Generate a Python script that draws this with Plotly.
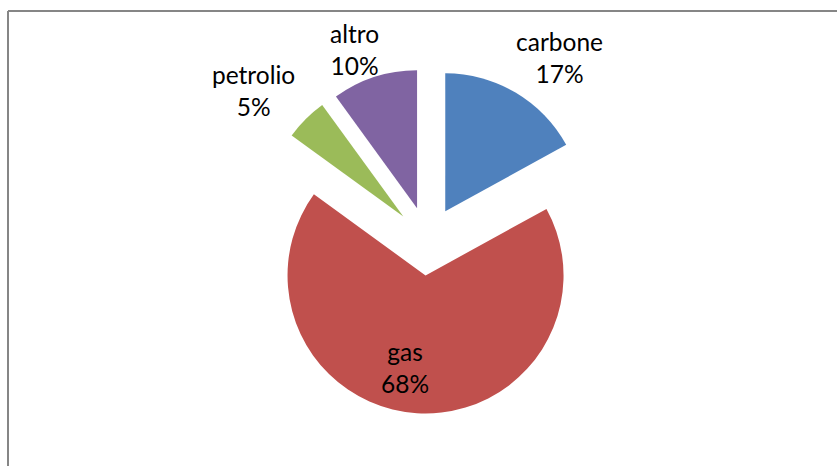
import plotly.graph_objects as go

labels = ["carbone", "gas", "petrolio", "altro"]
values = [17, 68, 5, 10]
colors = ["#4F81BD", "#C0504D", "#9BBB59", "#8064A2"]

# label block centres (pixels in the 837x466 canvas), Excel "best fit" style
label_px = [(559.5, 57), (405, 367), (253, 90), (354, 49)]

W, H = 837, 466
total = sum(values)

fig = go.Figure(go.Pie(
    labels=labels,
    values=values,
    sort=False,
    direction="clockwise",
    rotation=0,
    pull=[0.25] * len(values),
    marker=dict(colors=colors, line=dict(width=0)),
    textinfo="none",
    automargin=False,
    showlegend=False,
    hoverinfo="label+percent",
    domain=dict(x=[0.211, 0.811], y=[0.1126, 0.853]),
))

annotations = []
for lab, val, (px, py) in zip(labels, values, label_px):
    annotations.append(dict(
        xref="paper", yref="paper",
        x=px / W, y=1 - py / H,
        xanchor="center", yanchor="middle",
        text=f"{lab}<br>{round(100 * val / total)}%",
        showarrow=False,
        font=dict(family="Lato", size=24.5, color="#000000"),
        align="center",
    ))

fig.update_layout(
    width=W,
    height=H,
    margin=dict(l=0, r=0, t=0, b=0, autoexpand=False),
    paper_bgcolor="white",
    plot_bgcolor="white",
    annotations=annotations,
    shapes=[
        dict(type="line", xref="paper", yref="paper",
             x0=8 / W, x1=1.05, y0=1 - 11 / H, y1=1 - 11 / H,
             line=dict(color="#868686", width=2)),
        dict(type="line", xref="paper", yref="paper",
             x0=8 / W, x1=8 / W, y0=-0.05, y1=1 - 11 / H,
             line=dict(color="#868686", width=2)),
    ],
)

fig.write_html("out.html")
